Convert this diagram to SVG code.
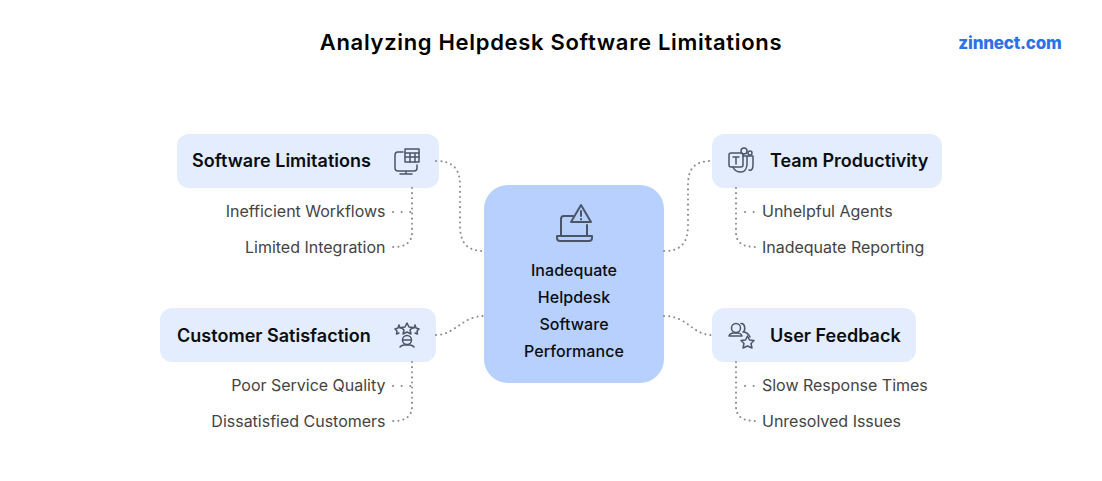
<svg xmlns="http://www.w3.org/2000/svg" width="1102" height="481" viewBox="0 0 1102 481">
<style>
text{font-family:Inter,"Liberation Sans",sans-serif}
.title{font-size:22px;font-weight:600;fill:#000;letter-spacing:.68px}
.head{font-size:18px;font-weight:600;fill:#0b0d12;letter-spacing:.02px}
.sub{font-size:16px;fill:#444;letter-spacing:-.01px}
.mid{font-size:16px;font-weight:500;fill:#0b0d12;text-anchor:middle;letter-spacing:.05px}
.box{fill:#e3edfd}
.c{fill:none;stroke:#8c8c8c;stroke-width:2;stroke-linecap:round;stroke-dasharray:.1 5}
.w{stroke-dasharray:.1 8.500}
.i{fill:none;stroke:#4a5568;stroke-width:1.5;stroke-linejoin:round;stroke-linecap:round}
</style>
<rect width="1102" height="481" fill="#fff"/>
<text class="title" x="551" y="50" text-anchor="middle">Analyzing Helpdesk Software Limitations</text>
<text x="1010" y="49" text-anchor="middle" style="font-size:17px;font-weight:800;fill:#2b72e6;letter-spacing:-.2px">zinnect.com</text>
<g id="center">
<rect x="484" y="185" width="180" height="198" rx="24" fill="#b8d0fe"/>
<g class="i" style="stroke-width:2">
<path d="M573 216H564Q561 216 561 219V236M587 225V236M557 236H592V238Q592 241 589 241H560Q557 241 557 238Z"/>
<path d="M581 205L571 222H591Z"/>
<path d="M581 211V216M581 219V219.500"/>
</g>
<text class="mid" x="574" y="276">Inadequate</text>
<text class="mid" x="574" y="303">Helpdesk</text>
<text class="mid" x="574" y="330">Software</text>
<text class="mid" x="574" y="357">Performance</text>
</g>
<g id="software-limitations">
<rect class="box" x="177" y="134" width="262" height="54" rx="12"/>
<text class="head" x="192" y="167">Software Limitations</text>
<g class="i">
<path d="M403 152H398Q395 152 395 155V168Q395 171 398 171H414Q417 171 417 168V165M406 171V174M400 174H412"/>
<rect x="405" y="149" width="14" height="13"/>
<path d="M405 153H419M405 157H419M410 153V162M415 153V162"/>
</g>
</g>
<g id="software-sub">
<text class="sub" x="385.500" y="217" text-anchor="end">Inefficient Workflows</text>
<text class="sub" x="385.500" y="253" text-anchor="end">Limited Integration</text>
</g>
<g id="customer-satisfaction">
<rect class="box" x="160" y="308" width="276" height="54" rx="12"/>
<text class="head" x="177" y="341.500">Customer Satisfaction</text>
<g class="i">
<path d="M407 323L409 327L413 327.500L410 330L411 334L407 332L403 334L404 330L401 327.500L405 327Z"/>
<path d="M399 325L400 328L403 328M399 325L398 328L395 329L397 331L396.500 334L399 333"/>
<path d="M415 325L414 328L411 328M415 325L416 328L419 329L417 331L417.500 334L415 333"/>
<circle cx="407" cy="340" r="4.500"/>
<path d="M403 340H411M400 347C402 344 404 345 407 345C410 345 412 344 414 347"/>
</g>
</g>
<g id="customer-sub">
<text class="sub" x="385.500" y="391" text-anchor="end">Poor Service Quality</text>
<text class="sub" x="385.500" y="427" text-anchor="end">Dissatisfied Customers</text>
</g>
<g id="team-productivity">
<rect class="box" x="712" y="134" width="230" height="54" rx="12"/>
<text class="head" x="770" y="167">Team Productivity</text>
<g class="i">
<rect x="729" y="153" width="14" height="14" rx="2"/>
<path d="M733 157H739M736 157V164"/>
<circle cx="744" cy="151" r="3"/><circle cx="750" cy="153" r="2"/>
<path d="M743 156H753V165Q753 171 749 170M733 167Q735 172 741 172Q746 172 747 165V156"/>
</g>
</g>
<g id="team-sub">
<text class="sub" x="762" y="217">Unhelpful Agents</text>
<text class="sub" x="762" y="253">Inadequate Reporting</text>
</g>
<g id="user-feedback">
<rect class="box" x="712" y="308" width="204" height="54" rx="12"/>
<text class="head" x="770" y="341.500">User Feedback</text>
<g class="i">
<circle cx="736" cy="328" r="4.500"/>
<path d="M729 336C730 332 733 333 736 333C739 333 741 333 742 336Z"/>
<path d="M741 323.500C745 323 746 330 743 332C746 332 748 333 750 337"/>
<path d="M747.500 336L749.500 340L754 340.500L751 343.500L752 348L747.500 346L743 348L744 343.500L741 340.500L745.500 340Z"/>
</g>
</g>
<g id="feedback-sub">
<text class="sub" x="762" y="391">Slow Response Times</text>
<text class="sub" x="762" y="427">Unresolved Issues</text>
</g>
<g id="connectors">
<path class="c" d="M436 161C452 161 460 168 460 185V225C460 244 468 251 484 251"/>
<path class="c" d="M664 251C680 251 688 244 688 225V185C688 168 695 161 712 161"/>
<path class="c" d="M436 335C455 335 462 316 484 316"/>
<path class="c" d="M664 316C688 316 692 335 712 335"/>
<path class="c" d="M412 188V232C412 243 405 247 393 247"/>
<path class="c w" d="M393 212H411"/>
<path class="c" d="M736 188V232C736 243 743 247 756 247"/>
<path class="c w" d="M745 212H756"/>
<path class="c" d="M412 362V406C412 417 405 421 393 421"/>
<path class="c w" d="M393 386H411"/>
<path class="c" d="M736 362V406C736 417 743 421 756 421"/>
<path class="c w" d="M745 386H756"/>
</g>
</svg>
